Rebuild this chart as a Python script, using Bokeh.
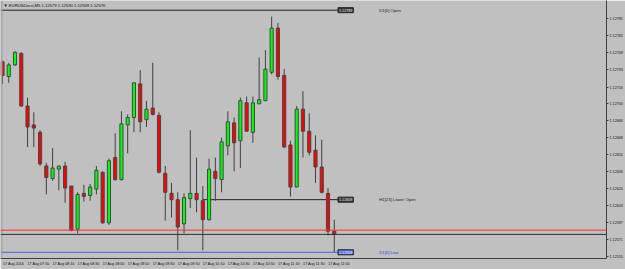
from bokeh.plotting import figure
from bokeh.models import Range1d, FixedTicker, PrintfTickFormatter, Span, Label, BoxAnnotation, ColumnDataSource
from bokeh.embed import file_html
from bokeh.resources import INLINE

# ---- data (EURUSD M5, 17 Aug 2016) ----
opens = [1.12740, 1.12726, 1.12737, 1.12748, 1.12698, 1.12680, 1.12673, 1.12641, 1.12629, 1.12638,
         1.12641, 1.12622, 1.12581, 1.12615, 1.12613, 1.12619, 1.12635, 1.12587, 1.12649, 1.12628,
         1.12680, 1.12687, 1.12719, 1.12685, 1.12696, 1.12689, 1.12634, 1.12615, 1.12609, 1.12586,
         1.12610, 1.12615, 1.12608, 1.12590, 1.12636, 1.12628, 1.12660, 1.12682, 1.12665, 1.12701,
         1.12673, 1.12700, 1.12703, 1.12730, 1.12772, 1.12727, 1.12661, 1.12621, 1.12695, 1.12674,
         1.12656, 1.12640, 1.12615, 1.12579]
highs = [1.12741, 1.12739, 1.12750, 1.12749, 1.12706, 1.12692, 1.12675, 1.12644, 1.12658, 1.12641,
         1.12645, 1.12622, 1.12616, 1.12623, 1.12624, 1.12641, 1.12636, 1.12648, 1.12672, 1.12693,
         1.12690, 1.12720, 1.12732, 1.12703, 1.12739, 1.12692, 1.12641, 1.12625, 1.12616, 1.12615,
         1.12675, 1.12649, 1.12622, 1.12648, 1.12649, 1.12668, 1.12693, 1.12687, 1.12706, 1.12707,
         1.12707, 1.12744, 1.12751, 1.12783, 1.12777, 1.12733, 1.12665, 1.12698, 1.12712, 1.12691,
         1.12670, 1.12666, 1.12620, 1.12590]
lows = [1.12719, 1.12720, 1.12736, 1.12697, 1.12659, 1.12659, 1.12641, 1.12614, 1.12627, 1.12618,
        1.12606, 1.12579, 1.12577, 1.12607, 1.12608, 1.12614, 1.12586, 1.12585, 1.12627, 1.12627,
        1.12653, 1.12673, 1.12673, 1.12678, 1.12689, 1.12634, 1.12589, 1.12592, 1.12561, 1.12577,
        1.12601, 1.12597, 1.12561, 1.12589, 1.12608, 1.12616, 1.12651, 1.12636, 1.12639, 1.12674,
        1.12663, 1.12700, 1.12703, 1.12728, 1.12723, 1.12658, 1.12612, 1.12621, 1.12649, 1.12651,
        1.12625, 1.12615, 1.12575, 1.12559]
closes = [1.12727, 1.12737, 1.12749, 1.12698, 1.12678, 1.12677, 1.12643, 1.12630, 1.12639, 1.12641,
          1.12620, 1.12580, 1.12614, 1.12612, 1.12621, 1.12637, 1.12587, 1.12646, 1.12628, 1.12681,
          1.12687, 1.12720, 1.12683, 1.12695, 1.12690, 1.12635, 1.12616, 1.12609, 1.12583, 1.12611,
          1.12615, 1.12609, 1.12590, 1.12638, 1.12629, 1.12664, 1.12683, 1.12663, 1.12703, 1.12674,
          1.12701, 1.12704, 1.12733, 1.12772, 1.12726, 1.12659, 1.12621, 1.12695, 1.12674, 1.12654,
          1.12640, 1.12616, 1.12579, 1.12576]

time_label_bars = [0, 4, 8, 12, 16, 20, 24, 28, 32, 36, 40, 44, 48, 52]
time_labels = ["17 Aug 2016", "17 Aug 07:50", "17 Aug 08:10", "17 Aug 08:30", "17 Aug 08:50",
               "17 Aug 09:10", "17 Aug 09:30", "17 Aug 09:50", "17 Aug 10:10", "17 Aug 10:30",
               "17 Aug 10:50", "17 Aug 11:10", "17 Aug 11:30", "17 Aug 11:50"]
price_ticks = [1.12781, 1.12765, 1.12749, 1.12733, 1.12716, 1.12700, 1.12684, 1.12668,
               1.12652, 1.12636, 1.12620, 1.12603, 1.12587, 1.12571, 1.12555]

symbol = "EURUSDecn,M5"
ask_price = 1.12580
bid_price = 1.12576
d1_open = 1.12789
h1_lower_open = 1.12609
h1_start_bar = 32
d1_low = 1.12559

# ---- layout constants ----
X_START, X_END = -0.32, 96.49
Y_START, Y_END = 1.125531, 1.127982
FONT = "Liberation Sans"
FS = "4.2px"
FS_AX = "3.7px"
BG = "#C0C0C0"

n = len(opens)
idx = list(range(n))
colors = ["#00FF00" if c >= o else "#FF0000" for o, c in zip(opens, closes)]
src = ColumnDataSource(dict(
    x=idx, o=opens, h=highs, l=lows, c=closes,
    top=[max(o, c) for o, c in zip(opens, closes)],
    bot=[min(o, c) for o, c in zip(opens, closes)],
    col=colors))

p = figure(width=625, height=269, x_range=Range1d(X_START, X_END), y_range=Range1d(Y_START, Y_END),
           output_backend="svg", toolbar_location=None, y_axis_location="right",
           min_border_left=0, min_border_right=17, min_border_top=0, min_border_bottom=11,
           background_fill_color=BG, border_fill_color=BG, outline_line_color=None)
p.grid.visible = False

# left frame strip
p.add_layout(BoxAnnotation(left=X_START, right=X_START + 0.3, fill_color="#A4A4A4", fill_alpha=1, line_color=None))

# level lines
last = n - 1
box_x = last + 0.6
text_x = last + 7.2
p.segment(x0=[X_START], y0=[d1_open], x1=[box_x], y1=[d1_open], line_color="#202020", line_width=1)
p.segment(x0=[h1_start_bar], y0=[h1_lower_open], x1=[box_x], y1=[h1_lower_open], line_color="#202020", line_width=1)
p.segment(x0=[X_START], y0=[d1_low], x1=[box_x], y1=[d1_low], line_color="#4A5CE6", line_width=1)
p.add_layout(Span(location=ask_price, dimension="width", line_color="#FF3030", line_width=1))
p.add_layout(Span(location=bid_price, dimension="width", line_color="#303030", line_width=1))

# candles
p.segment(x0="x", y0="l", x1="x", y1="h", source=src, line_color="#404040", line_width=1)
p.vbar(x="x", top="top", bottom="bot", width=0.5, source=src, fill_color="col", line_color="#404848", line_width=1)

def box(y, txt, bg, fg):
    p.add_layout(Label(x=box_x, y=y, text=txt, text_font=FONT, text_font_size=FS_AX, text_color=fg,
                       text_baseline="middle", text_align="left", background_fill_color=bg,
                       background_fill_alpha=1, border_line_color="#202020", padding=1))

box(d1_open, "%.5f" % d1_open, "#383838", "#E8E8E8")
box(h1_lower_open, "%.5f" % h1_lower_open, "#383838", "#E8E8E8")
box(d1_low, "%.5f" % d1_low, "#5A6EEA", "#FFFFFF")

for y, txt, colr in [(d1_open, "D1[0] Open", "#202020"), (h1_lower_open, "H1[23] Lower Open", "#202020"),
                     (d1_low, "D1[0] Low", "#2B3FE0")]:
    p.add_layout(Label(x=text_x, y=y, text=txt, text_font=FONT, text_font_size=FS, text_color=colr,
                       text_baseline="middle", text_align="left"))

# title
p.add_layout(Label(x=X_START, y=Y_END, x_offset=3, y_offset=-2,
                   text="\u25BC %s  %.5f %.5f %.5f %.5f" % (symbol, opens[-1], highs[-1], lows[-1], closes[-1]),
                   text_font=FONT, text_font_size=FS, text_color="#101010", text_baseline="top", text_align="left"))

# price tags on the axis
for y, bg in [(ask_price, "#FF2020"), (bid_price, "#000000")]:
    p.add_layout(Label(x=X_END, y=y, x_offset=1, text="%.5f" % y, text_font=FONT, text_font_size=FS_AX,
                       text_color="#FFFFFF", text_baseline="middle", text_align="left",
                       background_fill_color=bg, background_fill_alpha=1, padding=1))

# axes
xa = p.xaxis[0]
ticks = [round(b + 1.75, 2) for b in time_label_bars]
xa.ticker = FixedTicker(ticks=ticks)
xa.major_label_overrides = {t: s for t, s in zip(ticks, time_labels)}
xa.major_tick_line_color = None
xa.minor_tick_line_color = None
xa.major_tick_out = 0
xa.major_tick_in = 0
xa.minor_tick_out = 0
xa.minor_tick_in = 0
xa.axis_line_color = "#404040"
xa.major_label_text_font = FONT
xa.major_label_text_font_size = FS_AX
xa.major_label_text_color = "#101010"
xa.major_label_standoff = 3

ya = p.yaxis[0]
ya.ticker = FixedTicker(ticks=price_ticks)
ya.formatter = PrintfTickFormatter(format="%.5f")
ya.major_tick_out = 2
ya.major_tick_in = 0
ya.minor_tick_out = 0
ya.minor_tick_in = 0
ya.minor_tick_line_color = None
ya.axis_line_color = "#404040"
ya.major_tick_line_color = "#404040"
ya.major_label_text_font = FONT
ya.major_label_text_font_size = FS_AX
ya.major_label_text_color = "#101010"
ya.major_label_standoff = 1

open("out.html", "w").write(file_html(p, INLINE))
